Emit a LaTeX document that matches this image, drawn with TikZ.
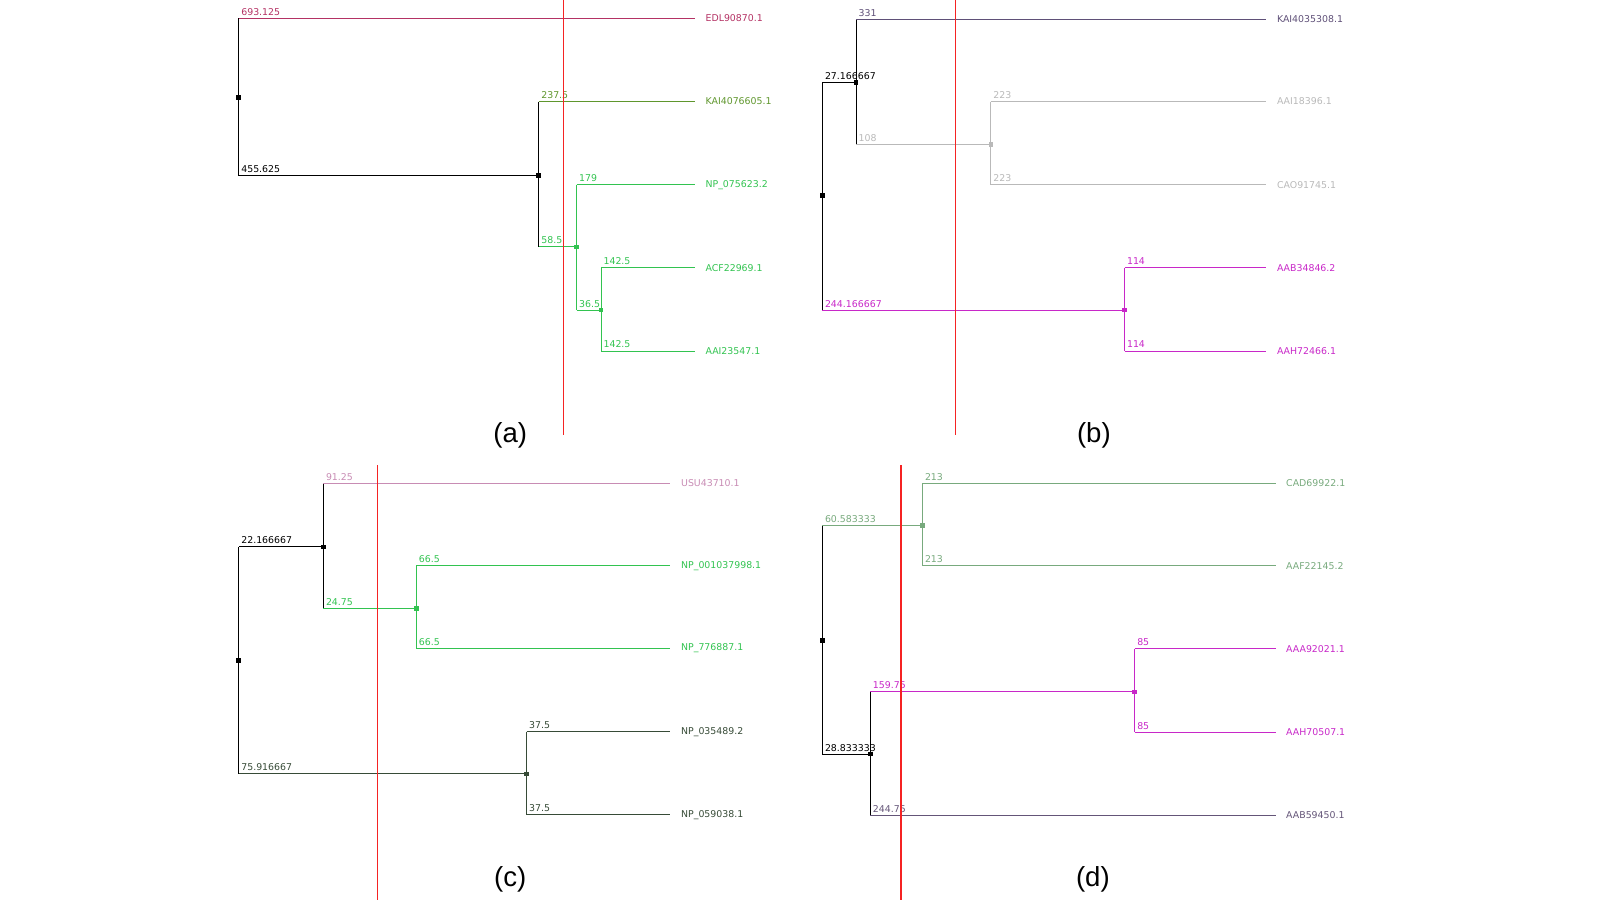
\documentclass[tikz,border=0pt]{standalone}
\usepackage{fontspec}
\setmainfont{Liberation Sans}
\newfontfamily\treefont{DejaVu Sans}
\definecolor{crim}{RGB}{180,50,100}
\definecolor{olive}{RGB}{95,150,45}
\definecolor{grn}{RGB}{50,195,80}
\definecolor{plum}{RGB}{95,80,120}
\definecolor{lgray}{RGB}{185,185,185}
\definecolor{mag}{RGB}{200,40,200}
\definecolor{mauve}{RGB}{200,140,180}
\definecolor{dkgrn}{RGB}{55,75,55}
\definecolor{sage}{RGB}{120,170,125}
\definecolor{dplum}{RGB}{100,85,120}
\definecolor{cutred}{RGB}{245,35,35}

\begin{document}
\begin{tikzpicture}[x=1pt, y=-1pt, line width=1pt,
  dot/.style={rectangle, fill=#1, inner sep=0pt, minimum size=4.5pt}, dot/.default=black,
  leaf/.style={anchor=west, inner sep=0pt, yshift=1pt, font=\treefont\fontsize{9.2}{11}\selectfont},
  blen/.style={anchor=base west, inner sep=0pt, xshift=2pt, yshift=3pt, font=\treefont\fontsize{9.2}{11}\selectfont},
  redline/.style={draw=cutred, line width=1.1pt},
  panel/.style={font=\fontsize{27}{30}\selectfont}]
\useasboundingbox (0,0) rectangle (1568,882);

% (a)
\node[leaf, crim] (edl) at (691,19) {EDL90870.1};
\node[leaf, olive] (kaia) at (691,100.5) {KAI4076605.1};
\node[leaf, grn] (npa) at (691,182) {NP\_075623.2};
\node[leaf, grn] (acf) at (691,263.5) {ACF22969.1};
\node[leaf, grn] (aaia) at (691,345) {AAI23547.1};
\node[dot] (a0) at (234,95.5) {};
\node[dot] (a1) at (528,172) {};
\node[dot=grn] (a2) at (565,242) {};
\node[dot=grn] (a3) at (589,304) {};
\draw (a0 |- edl.west) -- (a0 |- a1);
\draw (a1 |- kaia.west) -- (a1 |- a2);
\draw[grn] (a2 |- npa.west) -- (a2 |- a3);
\draw[grn] (a3 |- acf.west) -- (a3 |- aaia.west);
\draw[crim] (a0 |- edl.west) node[blen] {693.125} -- ([xshift=-10pt]edl.west);
\draw (a0 |- a1) node[blen] {455.625} -- (a1.center);
\draw[olive] (a1 |- kaia.west) node[blen] {237.5} -- ([xshift=-10pt]kaia.west);
\draw[grn] (a1 |- a2) node[blen] {58.5} -- (a2.center);
\draw[grn] (a2 |- npa.west) node[blen] {179} -- ([xshift=-10pt]npa.west);
\draw[grn] (a2 |- a3) node[blen] {36.5} -- (a3.center);
\draw[grn] (a3 |- acf.west) node[blen] {142.5} -- ([xshift=-10pt]acf.west);
\draw[grn] (a3 |- aaia.west) node[blen] {142.5} -- ([xshift=-10pt]aaia.west);
\draw[redline] (552,0) -- (552,426);
\node[panel] (la) at (500,427) {(a)};

% (b)
\node[leaf, plum] (kaib) at (1251,20) {KAI4035308.1};
\node[leaf, lgray] (aaib) at (1251,100.5) {AAI18396.1};
\node[leaf, lgray] (cao) at (1251,182) {CAO91745.1};
\node[leaf, mag] (aabb) at (1251,263.5) {AAB34846.2};
\node[leaf, mag] (aahb) at (1251,345) {AAH72466.1};
\node[dot] (b0) at (806,191.5) {};
\node[dot] (b1) at (839,81) {};
\node[dot=lgray] (b2) at (971,141.5) {};
\node[dot=mag] (b3) at (1102,304) {};
\draw (b0 |- b1) -- (b0 |- b3);
\draw (b1 |- kaib.west) -- (b1 |- b2);
\draw[lgray] (b2 |- aaib.west) -- (b2 |- cao.west);
\draw[mag] (b3 |- aabb.west) -- (b3 |- aahb.west);
\draw (b0 |- b1) node[blen] {27.166667} -- (b1.center);
\draw[mag] (b0 |- b3) node[blen] {244.166667} -- (b3.center);
\draw[plum] (b1 |- kaib.west) node[blen] {331} -- ([xshift=-10pt]kaib.west);
\draw[lgray] (b1 |- b2) node[blen] {108} -- (b2.center);
\draw[lgray] (b2 |- aaib.west) node[blen] {223} -- ([xshift=-10pt]aaib.west);
\draw[lgray] (b2 |- cao.west) node[blen] {223} -- ([xshift=-10pt]cao.west);
\draw[mag] (b3 |- aabb.west) node[blen] {114} -- ([xshift=-10pt]aabb.west);
\draw[mag] (b3 |- aahb.west) node[blen] {114} -- ([xshift=-10pt]aahb.west);
\draw[redline] (936,0) -- (936,426);
\node[panel] (lb) at (1072,427) {(b)};

% (c)
\node[leaf, mauve] (usu) at (667,474.5) {USU43710.1};
\node[leaf, grn] (npc1) at (667,555.5) {NP\_001037998.1};
\node[leaf, grn] (npc2) at (667,636.5) {NP\_776887.1};
\node[leaf, dkgrn] (npc3) at (667,718) {NP\_035489.2};
\node[leaf, dkgrn] (npc4) at (667,799.5) {NP\_059038.1};
\node[dot] (c0) at (234,647) {};
\node[dot] (c1) at (317,536) {};
\node[dot=grn] (c2) at (408,596.5) {};
\node[dot=dkgrn] (c3) at (516,758.5) {};
\draw (c0 |- c1) -- (c0 |- c3);
\draw (c1 |- usu.west) -- (c1 |- c2);
\draw[grn] (c2 |- npc1.west) -- (c2 |- npc2.west);
\draw[dkgrn] (c3 |- npc3.west) -- (c3 |- npc4.west);
\draw (c0 |- c1) node[blen] {22.166667} -- (c1.center);
\draw[dkgrn] (c0 |- c3) node[blen] {75.916667} -- (c3.center);
\draw[mauve] (c1 |- usu.west) node[blen] {91.25} -- ([xshift=-10pt]usu.west);
\draw[grn] (c1 |- c2) node[blen] {24.75} -- (c2.center);
\draw[grn] (c2 |- npc1.west) node[blen] {66.5} -- ([xshift=-10pt]npc1.west);
\draw[grn] (c2 |- npc2.west) node[blen] {66.5} -- ([xshift=-10pt]npc2.west);
\draw[dkgrn] (c3 |- npc3.west) node[blen] {37.5} -- ([xshift=-10pt]npc3.west);
\draw[dkgrn] (c3 |- npc4.west) node[blen] {37.5} -- ([xshift=-10pt]npc4.west);
\draw[redline] (370,456) -- (370,882);
\node[panel] (lc) at (500,862) {(c)};

% (d)
\node[leaf, sage] (cad) at (1260,474.5) {CAD69922.1};
\node[leaf, sage] (aaf) at (1260,555.5) {AAF22145.2};
\node[leaf, mag] (aaa) at (1260,637) {AAA92021.1};
\node[leaf, mag] (aahd) at (1260,718.5) {AAH70507.1};
\node[leaf, dplum] (aabd) at (1260,800) {AAB59450.1};
\node[dot] (d0) at (806,627.5) {};
\node[dot=sage] (d1) at (904,515) {};
\node[dot] (d2) at (853,739) {};
\node[dot=mag] (d3) at (1112,678) {};
\draw (d0 |- d1) -- (d0 |- d2);
\draw[sage] (d1 |- cad.west) -- (d1 |- aaf.west);
\draw (d2 |- d3) -- (d2 |- aabd.west);
\draw[mag] (d3 |- aaa.west) -- (d3 |- aahd.west);
\draw[sage] (d0 |- d1) node[blen] {60.583333} -- (d1.center);
\draw (d0 |- d2) node[blen] {28.833333} -- (d2.center);
\draw[sage] (d1 |- cad.west) node[blen] {213} -- ([xshift=-10pt]cad.west);
\draw[sage] (d1 |- aaf.west) node[blen] {213} -- ([xshift=-10pt]aaf.west);
\draw[mag] (d2 |- d3) node[blen] {159.75} -- (d3.center);
\draw[dplum] (d2 |- aabd.west) node[blen] {244.75} -- ([xshift=-10pt]aabd.west);
\draw[mag] (d3 |- aaa.west) node[blen] {85} -- ([xshift=-10pt]aaa.west);
\draw[mag] (d3 |- aahd.west) node[blen] {85} -- ([xshift=-10pt]aahd.west);
\draw[redline] (883,456) -- (883,882);
\node[panel] (ld) at (1071,862) {(d)};
\end{tikzpicture}
\end{document}
